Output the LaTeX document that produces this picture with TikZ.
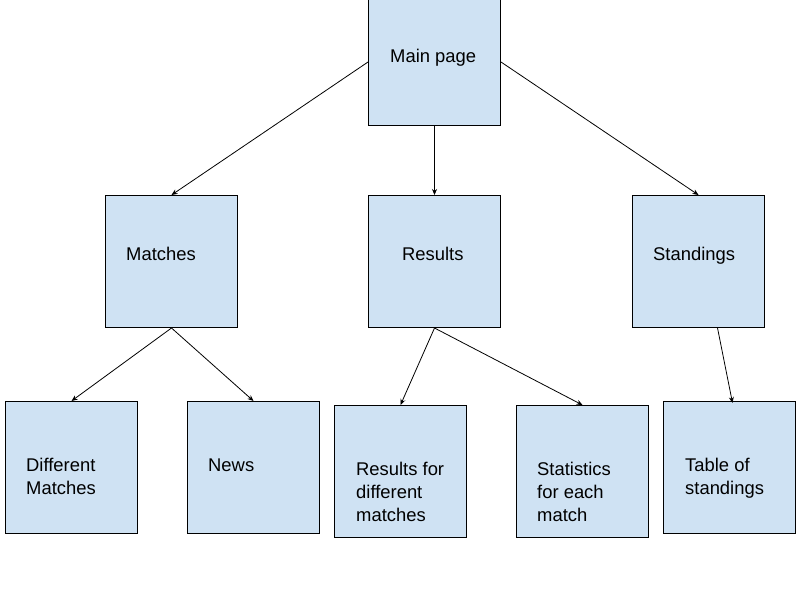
\documentclass[tikz,border=0pt]{standalone}
\usepackage{fontspec}
\setmainfont{Liberation Sans}
\usetikzlibrary{arrows.meta,calc}
\definecolor{boxblue}{HTML}{CFE2F3}
\tikzset{
  box/.style={draw=black,fill=boxblue,line width=1pt,minimum width=132pt,minimum height=132pt,inner sep=0pt,anchor=north west},
  lbl/.style={anchor=base west,inner sep=0pt,align=left,font=\fontsize{18.4}{22.7}\selectfont},
  conn/.style={draw=black,line width=0.8pt,-{Stealth[length=6pt,width=5pt]}}
}
\begin{document}
\begin{tikzpicture}[x=1pt,y=-1pt]
\useasboundingbox (0,0) rectangle (800,600);
\node[box,minimum height=127pt] (main) at (368,-2) {};
\node[box] (matches) at (105,195) {};
\node[box] (results) at (368,195) {};
\node[box] (standings) at (632,195) {};
\node[box] (diff) at (5,401) {};
\node[box] (news) at (187,401) {};
\node[box] (rfdm) at (334,405) {};
\node[box] (stats) at (516,405) {};
\node[box] (table) at (663,401) {};
\node[lbl] (mainT) at (390,62) {Main page};
\node[lbl] (matchesT) at (126,260) {Matches};
\node[lbl] (resultsT) at (402,260) {Results};
\node[lbl] (standingsT) at (653,260) {Standings};
\node[lbl] (diffT) at (26,494) {Different\\Matches};
\node[lbl] (newsT) at (208,471) {News};
\node[lbl] (rfdmT) at (356,521) {Results for\\different\\matches};
\node[lbl] (statsT) at (537,521) {Statistics\\for each\\match};
\node[lbl] (tableT) at (685,494) {Table of\\standings};
\draw[conn] (main.west) -- (matches.north);
\draw[conn] (main.south) -- (results.north);
\draw[conn] (main.east) -- (standings.north);
\draw[conn] (matches.south) -- (diff.north);
\draw[conn] (matches.south) -- (news.north);
\draw[conn] (results.south) -- (rfdm.north);
\draw[conn] (results.south) -- (stats.north);
\draw[conn] ([xshift=19pt]standings.south) -- ([xshift=3pt,yshift=-2pt]table.north);
\end{tikzpicture}
\end{document}
